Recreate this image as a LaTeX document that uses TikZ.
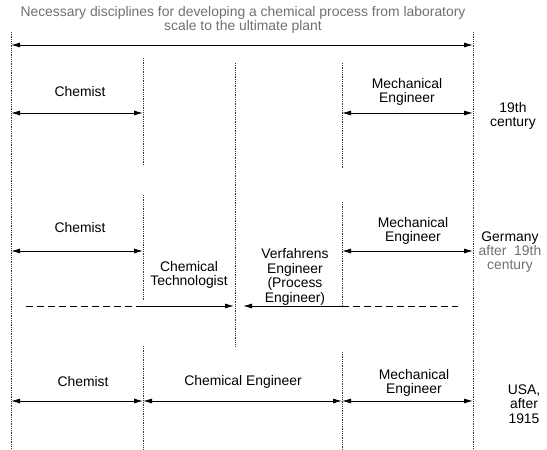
\documentclass[tikz,border=0pt]{standalone}
\usepackage{fontspec}
\setmainfont{Liberation Sans}
\usetikzlibrary{arrows.meta}
\definecolor{txtgray}{HTML}{707070}
\begin{document}
\begin{tikzpicture}[x=1pt,y=-1pt,
  lbl/.style={font=\fontsize{13.9}{14.4}\selectfont, align=center, inner sep=0pt},
  graytext/.style={text=txtgray},
  vline/.style={draw=black!80, line width=0.75pt, dash pattern=on 0.9pt off 0.9pt},
  tip/.tip={Latex[length=9pt,width=5pt]},
  dbl/.style={line width=0.9pt, tip-tip},
  sarrow/.style={line width=0.9pt, -tip},
  dashline/.style={line width=0.9pt, dash pattern=on 7pt off 4pt}]
\useasboundingbox (0,0) rectangle (547,450);

% vertical dotted lines
\coordinate (vLt) at (11,32);  \coordinate (vLb) at (11,450);
\coordinate (vRt) at (473,32); \coordinate (vRb) at (473,450);
\coordinate (vMt) at (235,63); \coordinate (vMb) at (235,347);
\coordinate (a1t) at (143,58);  \coordinate (a1b) at (143,166);
\coordinate (b1t) at (342,63);  \coordinate (b1b) at (342,168);
\coordinate (a2t) at (143,195); \coordinate (a2b) at (143,300);
\coordinate (b2t) at (342,202); \coordinate (b2b) at (342,305);
\coordinate (a3t) at (143,346); \coordinate (a3b) at (143,450);
\coordinate (b3t) at (342,352); \coordinate (b3b) at (342,450);
\foreach \p in {vL,vR,vM,a1,b1,a2,b2,a3,b3} \draw[vline] (\p t) -- (\p b);

% title
\node[lbl,graytext] (title) at (243,20) {Necessary disciplines for developing a chemical process from laboratory\\scale to the ultimate plant};
\coordinate (T0) at (11,45); \coordinate (T1) at (473,45);
\draw[dbl] (T0) -- (T1);

% row 1
\node[lbl] (chem1) at (80,92) {Chemist};
\node[lbl] (mech1) at (407,92) {Mechanical\\Engineer};
\node[lbl] (era1) at (513,116) {19th\\century};
\coordinate (r1a) at (11,113); \coordinate (r1b) at (143,113);
\coordinate (r1c) at (342,113); \coordinate (r1d) at (473,113);
\draw[dbl] (r1a) -- (r1b);
\draw[dbl] (r1c) -- (r1d);

% row 2
\node[lbl] (chem2) at (80,228) {Chemist};
\node[lbl] (mech2) at (413,231) {Mechanical\\Engineer};
\node[lbl] (era2) at (510,252) {Germany\\\textcolor{txtgray}{after\ \ 19th}\\\textcolor{txtgray}{century}};
\node[lbl] (tech) at (189,275) {Chemical\\Technologist};
\node[lbl] (verf) at (295,277) {Verfahrens\\Engineer\\(Process\\Engineer)};
\coordinate (r2a) at (11,251); \coordinate (r2b) at (143,251);
\coordinate (r2c) at (342,251); \coordinate (r2d) at (473,251);
\draw[dbl] (r2a) -- (r2b);
\draw[dbl] (r2c) -- (r2d);
\coordinate (dl1) at (26,306); \coordinate (dl2) at (137,306); \coordinate (dl3) at (234,306);
\coordinate (dr1) at (243,306); \coordinate (dr2) at (342,306); \coordinate (dr3) at (458,306);
\draw[dashline] (dl1) -- (dl2);
\draw[sarrow] (dl2) -- (dl3);
\draw[sarrow] (dr2) -- (dr1);
\draw[dashline] (dr2) -- (dr3);

% row 3
\node[lbl] (chem3) at (83,382) {Chemist};
\node[lbl] (cheng) at (243,382) {Chemical Engineer};
\node[lbl] (mech3) at (414,383) {Mechanical\\Engineer};
\node[lbl] (era3) at (524,404) {USA,\\after\\1915};
\coordinate (r3a) at (11,401); \coordinate (r3b) at (143,401);
\coordinate (r3c) at (342,401); \coordinate (r3d) at (473,401);
\draw[dbl] (r3a) -- (r3b);
\draw[dbl] (r3b) -- (r3c);
\draw[dbl] (r3c) -- (r3d);
\end{tikzpicture}
\end{document}
